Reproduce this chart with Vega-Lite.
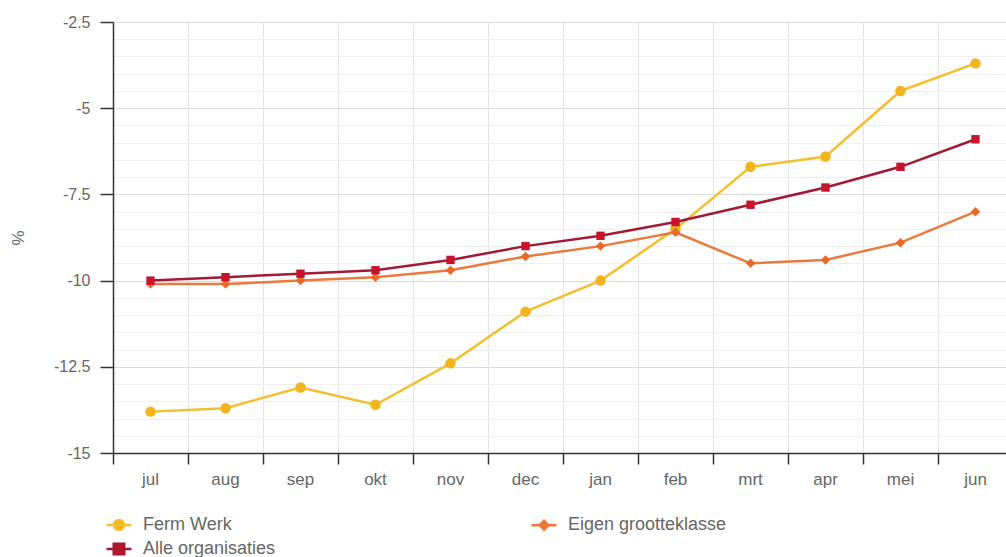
{
  "$schema": "https://vega.github.io/schema/vega-lite/v6.json",
  "autosize": "none",
  "padding": {"left": 113, "top": 22, "right": 0, "bottom": 104},
  "width": 900,
  "height": 431,
  "background": "white",
  "config": {
    "font": "Liberation Sans",
    "view": {"stroke": null},
    "axis": {"labelFont": "Liberation Sans", "labelColor": "#666666", "titleFont": "Liberation Sans"}
  },
  "data": {
    "values": [
      {"month": "jul", "series": "Ferm Werk", "value": -13.8},
      {"month": "aug", "series": "Ferm Werk", "value": -13.7},
      {"month": "sep", "series": "Ferm Werk", "value": -13.1},
      {"month": "okt", "series": "Ferm Werk", "value": -13.6},
      {"month": "nov", "series": "Ferm Werk", "value": -12.4},
      {"month": "dec", "series": "Ferm Werk", "value": -10.9},
      {"month": "jan", "series": "Ferm Werk", "value": -10.0},
      {"month": "feb", "series": "Ferm Werk", "value": -8.5},
      {"month": "mrt", "series": "Ferm Werk", "value": -6.7},
      {"month": "apr", "series": "Ferm Werk", "value": -6.4},
      {"month": "mei", "series": "Ferm Werk", "value": -4.5},
      {"month": "jun", "series": "Ferm Werk", "value": -3.7},
      {"month": "jul", "series": "Eigen grootteklasse", "value": -10.1},
      {"month": "aug", "series": "Eigen grootteklasse", "value": -10.1},
      {"month": "sep", "series": "Eigen grootteklasse", "value": -10.0},
      {"month": "okt", "series": "Eigen grootteklasse", "value": -9.9},
      {"month": "nov", "series": "Eigen grootteklasse", "value": -9.7},
      {"month": "dec", "series": "Eigen grootteklasse", "value": -9.3},
      {"month": "jan", "series": "Eigen grootteklasse", "value": -9.0},
      {"month": "feb", "series": "Eigen grootteklasse", "value": -8.6},
      {"month": "mrt", "series": "Eigen grootteklasse", "value": -9.5},
      {"month": "apr", "series": "Eigen grootteklasse", "value": -9.4},
      {"month": "mei", "series": "Eigen grootteklasse", "value": -8.9},
      {"month": "jun", "series": "Eigen grootteklasse", "value": -8.0},
      {"month": "jul", "series": "Alle organisaties", "value": -10.0},
      {"month": "aug", "series": "Alle organisaties", "value": -9.9},
      {"month": "sep", "series": "Alle organisaties", "value": -9.8},
      {"month": "okt", "series": "Alle organisaties", "value": -9.7},
      {"month": "nov", "series": "Alle organisaties", "value": -9.4},
      {"month": "dec", "series": "Alle organisaties", "value": -9.0},
      {"month": "jan", "series": "Alle organisaties", "value": -8.7},
      {"month": "feb", "series": "Alle organisaties", "value": -8.3},
      {"month": "mrt", "series": "Alle organisaties", "value": -7.8},
      {"month": "apr", "series": "Alle organisaties", "value": -7.3},
      {"month": "mei", "series": "Alle organisaties", "value": -6.7},
      {"month": "jun", "series": "Alle organisaties", "value": -5.9}
    ]
  },
  "encoding": {
    "x": {
      "field": "month", "type": "nominal",
      "sort": ["jul","aug","sep","okt","nov","dec","jan","feb","mrt","apr","mei","jun"],
      "scale": {"type": "band", "paddingInner": 0, "paddingOuter": 0},
      "axis": {
        "title": null, "labelAngle": 0, "bandPosition": 0,
        "grid": true, "gridColor": "#e4e4e4", "gridWidth": 1,
        "domainColor": "#333333", "domainWidth": 1.5,
        "tickColor": "#333333", "tickWidth": 1.5, "tickSize": 11,
        "labelPadding": 7, "labelFlush": false, "labelFontSize": 17,
        "labelAlign": "center"
      }
    },
    "y": {
      "field": "value", "type": "quantitative",
      "scale": {"domain": [-15, -2.5], "nice": false, "zero": false},
      "axis": {
        "title": "%", "titleColor": "#666666", "titleFontSize": 17, "titleFontWeight": "normal", "titlePadding": 26,
        "values": [-15,-14.5,-14,-13.5,-13,-12.5,-12,-11.5,-11,-10.5,-10,-9.5,-9,-8.5,-8,-7.5,-7,-6.5,-6,-5.5,-5,-4.5,-4,-3.5,-3,-2.5],
        "labelExpr": "datum.value % 2.5 === 0 ? toString(datum.value) : ''",
        "labelFontSize": 16,
        "grid": true,
        "gridColor": {"condition": {"test": "datum.value % 2.5 === 0", "value": "#dcdcdc"}, "value": "#f0f0f0"},
        "tickOpacity": {"condition": {"test": "datum.value % 2.5 === 0", "value": 1}, "value": 0},
        "tickColor": "#333333", "tickWidth": 1.5, "tickSize": 13,
        "domainColor": "#333333", "domainWidth": 1.5,
        "labelPadding": 10
      }
    }
  },
  "layer": [
    {
      "mark": {"type": "line", "strokeWidth": 2.5},
      "encoding": {
        "color": {
          "field": "series", "type": "nominal",
          "scale": {"domain": ["Ferm Werk", "Alle organisaties", "Eigen grootteklasse"], "range": ["#f2bf2e", "#a21a34", "#ea7a3c"]},
          "legend": {
            "title": null, "orient": "none", "legendX": -8, "legendY": 489,
            "columns": 2, "columnPadding": 250, "rowPadding": -5,
            "labelFont": "Liberation Sans", "labelFontSize": 18, "labelColor": "#666666",
            "symbolSize": 625, "symbolStrokeWidth": 2.5, "labelOffset": 10,
            "encode": {
              "symbols": {
                "update": {
                  "shape": {"signal": "datum.value === 'Ferm Werk' ? 'M-1,0H1M0.4,0A0.4,0.4,0,1,1,-0.4,0A0.4,0.4,0,1,1,0.4,0Z' : datum.value === 'Alle organisaties' ? 'M-1,0H1M-0.42,-0.42H0.42V0.42H-0.42Z' : 'M-1,0H1M0,-0.36L0.36,0L0,0.36L-0.36,0Z'"},
                  "fill": {"signal": "datum.value === 'Ferm Werk' ? '#f0b41c' : datum.value === 'Alle organisaties' ? '#c8132e' : '#e8692a'"},
                  "stroke": {"signal": "datum.value === 'Ferm Werk' ? '#f2bf2e' : datum.value === 'Alle organisaties' ? '#c8132e' : '#e8692a'"},
                  "strokeWidth": {"value": 2.5},
                  "strokeOpacity": {"value": 1},
                  "opacity": {"value": 1}
                }
              }
            }
          }
        }
      }
    },
    {
      "mark": {"type": "point", "filled": true, "opacity": 1},
      "encoding": {
        "fill": {
          "field": "series", "type": "nominal",
          "scale": {"domain": ["Ferm Werk", "Eigen grootteklasse", "Alle organisaties"], "range": ["#f0b41c", "#e8692a", "#c8132e"]},
          "legend": null
        },
        "shape": {
          "field": "series", "type": "nominal",
          "scale": {"domain": ["Ferm Werk", "Eigen grootteklasse", "Alle organisaties"], "range": ["circle", "diamond", "square"]},
          "legend": null
        },
        "size": {
          "field": "series", "type": "nominal",
          "scale": {"domain": ["Ferm Werk", "Eigen grootteklasse", "Alle organisaties"], "range": [110, 70, 150]},
          "legend": null
        }
      }
    }
  ]
}
